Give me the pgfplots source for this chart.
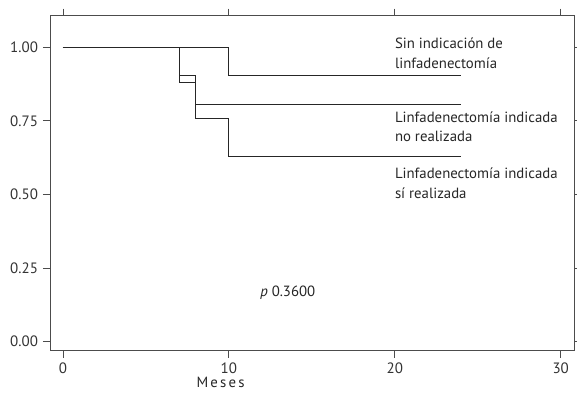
\documentclass[border=0pt]{standalone}
\usepackage{fontspec}
\setmainfont{PT Sans}
\usepackage{pgfplots}
\pgfplotsset{compat=1.18}
\begin{document}
\begin{tikzpicture}[font=\fontsize{14.8}{19.5}\selectfont]
\begin{axis}[
 scale only axis, width=524pt, height=335pt,
 xmin=-0.78, xmax=30.8, ymin=-0.031, ymax=1.107,
 xtick={0,10,20,30}, xticklabels={0,10,20,30},
 ytick={0,0.25,0.5,0.75,1}, yticklabels={0.00,0.25,0.50,0.75,1.00},
 /pgf/number format/assume math mode=true,
 tick align=outside, major tick length=7pt,
 axis line style={color=black!70, line width=0.8pt},
 tick style={color=black!70, line width=0.8pt},
 tick label style={font=\fontsize{15}{17}\selectfont, text=black!80},
 yticklabel style={xshift=-1.5pt},
 xticklabel style={yshift=-2pt},
 clip=false,
]
\addplot[const plot, black!85, line width=1pt] coordinates {(0,1) (10,0.905) (24,0.905)};
\addplot[const plot, black!85, line width=1pt] coordinates {(0,1) (7,0.905) (8,0.804) (24,0.804)};
\addplot[const plot, black!85, line width=1pt] coordinates {(0,1) (7,0.88) (8,0.757) (10,0.63) (24,0.63)};
\node[anchor=west, align=left, text=black!85, inner sep=0pt] at (axis cs:20,0.979) {Sin indicación de\\linfadenectomía};
\node[anchor=west, align=left, text=black!85, inner sep=0pt] at (axis cs:20,0.729) {Linfadenectomía indicada\\no realizada};
\node[anchor=west, align=left, text=black!85, inner sep=0pt] at (axis cs:20,0.537) {Linfadenectomía indicada\\sí realizada};
\node[text=black!85] at (axis cs:13.55,0.165) {\textit{p} 0.3600};
\node[text=black!85] at (axis cs:9.5,-0.14) {\addfontfeatures{LetterSpace=15}Meses};
\end{axis}
\pgfresetboundingbox
\path (-50pt,-44.3pt) rectangle (527pt,350.7pt);
\end{tikzpicture}
\end{document}
